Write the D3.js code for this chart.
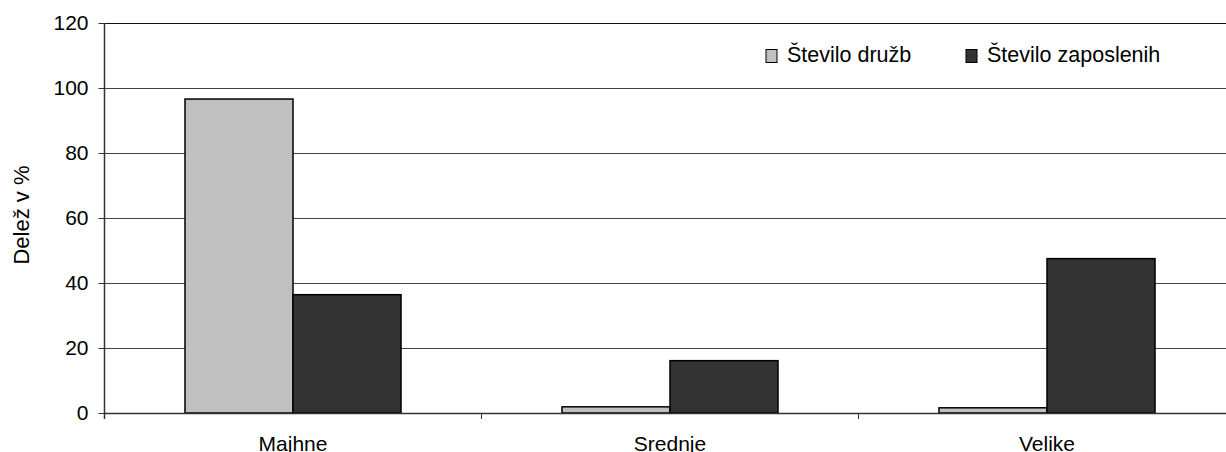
<!DOCTYPE html>
<html><head><meta charset="utf-8">
<script src="https://cdn.jsdelivr.net/npm/d3@7"></script>
<style>body{margin:0;background:#fff}svg{display:block;font-family:"Liberation Sans",Arial,sans-serif}</style>
</head><body><svg id="c" width="1226" height="452"></svg>
<script>
const categories = ["Majhne", "Srednje", "Velike"];
const seriesNames = ["Število družb", "Število zaposlenih"];
const druzbe = [96.6, 1.9, 1.6];
const zaposleni = [36.4, 16.1, 47.5];
const yTicks = [0, 20, 40, 60, 80, 100, 120];
const colors = ["#c0c0c0", "#333333"];
const seriesValues = [druzbe, zaposleni];

const svg = d3.select("#c");
const mLeft = 104.5, mRight = 1235.5, mTop = 23, mBottom = 413;
const fs = 21;

const x0 = d3.scaleBand().domain(categories).range([mLeft, mRight]).paddingInner(0.427).paddingOuter(0.2135);
const x1 = d3.scaleBand().domain(seriesNames).range([0, x0.bandwidth()]);
const y = d3.scaleLinear().domain([0, 120]).range([mBottom, mTop]);

// gridlines
svg.append("g").selectAll("line").data(yTicks.filter(d => d > 0)).join("line")
  .attr("x1", mLeft).attr("x2", 1226)
  .attr("y1", d => Math.round(y(d)) + 0.5).attr("y2", d => Math.round(y(d)) + 0.5)
  .attr("stroke", d => d === 120 ? "#111" : "#444").attr("stroke-width", 1);

// bars
const g = svg.append("g");
categories.forEach((c, i) => {
  seriesNames.forEach((s, j) => {
    const v = seriesValues[j][i];
    g.append("rect")
      .attr("x", x0(c) + x1(s)).attr("width", x1.bandwidth())
      .attr("y", y(v)).attr("height", y(0) - y(v))
      .attr("fill", colors[j]).attr("stroke", "#000").attr("stroke-width", 1.5);
  });
});

// y axis
const ya = svg.append("g").attr("transform", `translate(${mLeft},0)`)
  .call(d3.axisLeft(y).tickValues(yTicks).tickSize(6).tickPadding(10).tickFormat(d3.format("d")));
ya.select(".domain").remove();
ya.selectAll(".tick line").attr("stroke", "#333");
ya.selectAll("text").attr("font-size", fs).attr("font-family", "Liberation Sans, Arial, sans-serif").attr("fill", "#000");
svg.append("line").attr("x1", mLeft).attr("x2", mLeft).attr("y1", mTop).attr("y2", mBottom + 6).attr("stroke", "#333").attr("stroke-width", 1.5);

// x axis
svg.append("line").attr("x1", mLeft).attr("x2", 1226).attr("y1", mBottom + 0.5).attr("y2", mBottom + 0.5).attr("stroke", "#333").attr("stroke-width", 1.5);
const bounds = categories.map((c, i) => x0(c) - x0.step() * x0.paddingInner() / 2).slice(1);
svg.append("g").selectAll("line").data(bounds).join("line")
  .attr("x1", d => d).attr("x2", d => d).attr("y1", mBottom).attr("y2", mBottom + 6).attr("stroke", "#333");
svg.append("g").selectAll("text").data(categories).join("text")
  .attr("x", d => x0(d) + x0.bandwidth() / 2).attr("y", 451)
  .attr("text-anchor", "middle").attr("font-size", fs).text(d => d);

// y title
svg.append("text").attr("transform", "translate(29,215) rotate(-90)")
  .attr("text-anchor", "middle").attr("font-size", 22).text("Delež v %");

// legend
const legX = [766, 966];
seriesNames.forEach((s, j) => {
  svg.append("rect").attr("x", legX[j]).attr("y", 49.5).attr("width", 11).attr("height", 13)
    .attr("fill", colors[j]).attr("stroke", "#000").attr("stroke-width", 1);
  svg.append("text").attr("x", legX[j] + 21).attr("y", 62).attr("font-size", 21.5).text(s);
});
</script></body></html>
